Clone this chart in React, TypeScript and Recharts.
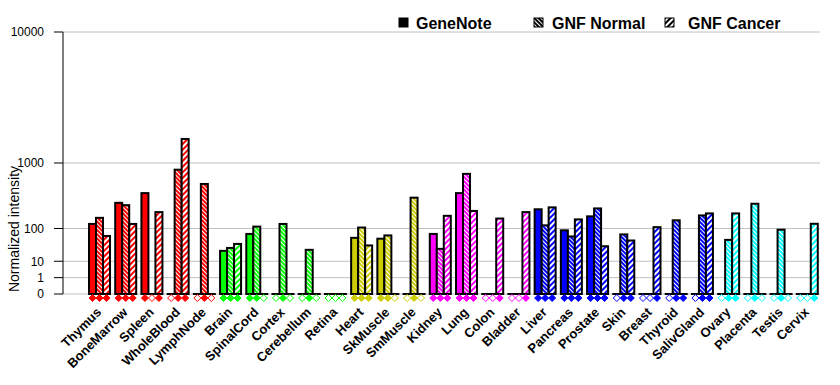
import { Bar, BarChart, CartesianGrid, Label, XAxis, YAxis } from "recharts";

const FONT = '"Liberation Sans", Arial, sans-serif';

const TISSUES = [
  "Thymus", "BoneMarrow", "Spleen", "WholeBlood", "LymphNode",
  "Brain", "SpinalCord", "Cortex", "Cerebellum", "Retina",
  "Heart", "SkMuscle", "SmMuscle",
  "Kidney", "Lung", "Colon", "Bladder",
  "Liver", "Pancreas", "Prostate", "Skin", "Breast", "Thyroid", "SalivGland",
  "Ovary", "Placenta", "Testis", "Cervix",
];

const TISSUE_COLORS = [
  "#ff0000", "#ff0000", "#ff0000", "#ff0000", "#ff0000",
  "#00ff00", "#00ff00", "#00ff00", "#00ff00", "#00ff00",
  "#cccc00", "#cccc00", "#cccc00",
  "#ff00ff", "#ff00ff", "#ff00ff", "#ff00ff",
  "#0000ff", "#0000ff", "#0000ff", "#0000ff", "#0000ff", "#0000ff", "#0000ff",
  "#00ffff", "#00ffff", "#00ffff", "#00ffff",
];

// null = no data (open diamond)
const GENENOTE = [
  125, 300, 420, null, null,
  25, 75, null, null, null,
  60, 57, null,
  75, 420, null, null,
  235, 91, 176, null, null, null, null,
  null, null, null, null,
];

const GNF_NORMAL = [
  165, 275, null, 840, 560,
  31, 110, 125, 27, null,
  105, 69, 360,
  29, 750, null, null,
  117, 65, 243, 73, null, 148, 183,
  53, 290, 94, null,
];

const GNF_CANCER = [
  67, 125, 210, 1750, null,
  41, null, null, null, null,
  37, null, null,
  180, 220, 160, 210,
  253, 154, 35, 51, 107, 0, 199,
  199, null, null, 126,
];

const Y_TICK_VALUES = [0, 1, 10, 100, 1000, 10000];

const EXP = Math.log10(2);
const toScale = (v: number | null) => (v !== null && v > 0 ? Math.pow(v, EXP) : 0);
const Y_TICKS = Y_TICK_VALUES.map(toScale);

const data = TISSUES.map((name, i) => ({
  name,
  color: TISSUE_COLORS[i],
  gn: toScale(GENENOTE[i]),
  nr: toScale(GNF_NORMAL[i]),
  ca: toScale(GNF_CANCER[i]),
  gnHas: GENENOTE[i] !== null,
  nrHas: GNF_NORMAL[i] !== null,
  caHas: GNF_CANCER[i] !== null,
}));

const COLORS = Array.from(new Set(TISSUE_COLORS));
const colorId = (c: string) => c.replace("#", "");

function fillFor(kind: string, color: string) {
  if (kind === "gn") return color;
  return `url(#${kind}-${colorId(color)})`;
}

function makeShape(kind: "gn" | "nr" | "ca") {
  return (props: any) => {
    const { x, y, width, height, payload } = props;
    const color = payload.color;
    const has = payload[kind + "Has"];
    const base = y + height;
    const cx = x + width / 2;
    const dy = base + 4;
    const d = 3.5;
    const diamond = `${cx},${dy - d} ${cx + d},${dy} ${cx},${dy + d} ${cx - d},${dy}`;
    return (
      <g>
        {height > 0.5 ? (
          <rect x={x} y={y} width={width} height={height} fill={fillFor(kind, color)} stroke="#000" strokeWidth={2} />
        ) : (
          <line x1={x - 1} x2={x + width + 1} y1={base} y2={base} stroke="#000" strokeWidth={2} />
        )}
        <polygon
          points={diamond}
          fill={has ? color : "#fff"}
          stroke={color}
          strokeWidth={1}
        />
      </g>
    );
  };
}

const formatY = (t: number) => {
  const i = Y_TICKS.findIndex((v) => Math.abs(v - t) < 1e-6);
  return i >= 0 ? String(Y_TICK_VALUES[i]) : "";
};

function XTick({ x, y, payload }: any) {
  const ax = x + 3;
  const ay = y + 19;
  return (
    <text
      x={ax}
      y={ay}
      transform={`rotate(-45, ${ax}, ${ay})`}
      textAnchor="end"
      fontSize={13}
      fontWeight="bold"
      fontFamily={FONT}
      fill="#000"
    >
      {payload.value}
    </text>
  );
}

function YLabel() {
  return (
    <text
      x={14}
      y={229}
      transform="rotate(-90, 14, 229)"
      textAnchor="middle"
      dominantBaseline="central"
      fontSize={14}
      fontFamily={FONT}
      fill="#000"
    >
      Normalized intensity
    </text>
  );
}

function Patterns({ prefix, list }: { prefix: string; list: string[] }) {
  return (
    <defs>
      {list.map((c) => (
        <g key={c}>
          <pattern id={`${prefix}nr-${colorId(c)}`} width={3} height={3} patternUnits="userSpaceOnUse" patternTransform="rotate(-45)">
            <rect width={3} height={3} fill={c} />
            <rect width={1} height={3} fill="#fff" />
          </pattern>
          <pattern id={`${prefix}ca-${colorId(c)}`} width={4} height={4} patternUnits="userSpaceOnUse" patternTransform="rotate(45)">
            <rect width={4} height={4} fill={c} />
            <rect width={2} height={4} fill="#fff" />
          </pattern>
        </g>
      ))}
    </defs>
  );
}

function LegendBar() {
  const items = [
    { label: "GeneNote", kind: "gn", ix: 399, tx: 416 },
    { label: "GNF Normal", kind: "nr", ix: 534, tx: 552 },
    { label: "GNF Cancer", kind: "ca", ix: 665, tx: 688 },
  ];
  return (
    <svg width={840} height={40} style={{ position: "absolute", left: 0, top: 0 }}>
      <Patterns prefix="leg" list={["#000000"]} />
      {items.map((it) => (
        <g key={it.label}>
          <rect
            x={it.ix}
            y={18}
            width={9}
            height={9}
            fill={it.kind === "gn" ? "#000" : `url(#leg${it.kind}-000000)`}
            stroke="#000"
            strokeWidth={1}
          />
          <text x={it.tx} y={28.5} fontSize={16} fontWeight="bold" fontFamily={FONT} fill="#000">
            {it.label}
          </text>
        </g>
      ))}
    </svg>
  );
}

export default function App() {
  return (
    <div style={{ position: "absolute", left: 0, top: 0, width: 840, height: 385, background: "#fff" }}>
      <BarChart
        width={840}
        height={385}
        data={data}
        margin={{ top: 32, right: 20, bottom: 0, left: 0 }}
        barSize={7}
        barGap={0}
      >
        <Patterns prefix="" list={COLORS} />
        <CartesianGrid vertical={false} stroke="#c0c0c0" />
        <XAxis
          dataKey="name"
          interval={0}
          height={91}
          tick={<XTick />}
          tickLine={false}
          axisLine={false}
          tickSize={0}
          tickMargin={0}
          padding={{ left: 23, right: 0 }}
        />
        <YAxis
          type="number"
          width={63}
          domain={[0, Y_TICKS[Y_TICKS.length - 1]]}
          ticks={Y_TICKS}
          interval={0}
          tickFormatter={formatY}
          tickSize={9}
          tickMargin={10}
          axisLine={{ stroke: "#000" }}
          tickLine={{ stroke: "#000" }}
          tick={{ fill: "#000", fontSize: 12, fontFamily: FONT }}
        >
          <Label content={<YLabel />} />
        </YAxis>
        <Bar dataKey="gn" isAnimationActive={false} shape={makeShape("gn")} />
        <Bar dataKey="nr" isAnimationActive={false} shape={makeShape("nr")} />
        <Bar dataKey="ca" isAnimationActive={false} shape={makeShape("ca")} />
      </BarChart>
      <LegendBar />
    </div>
  );
}
